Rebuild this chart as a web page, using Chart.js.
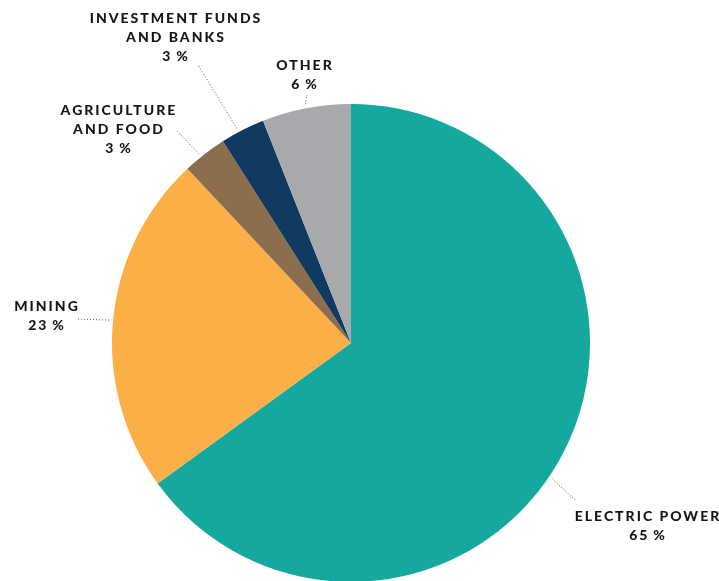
<!DOCTYPE html>
<html>
<head>
<meta charset="utf-8">
<script src="https://cdn.jsdelivr.net/npm/chart.js@4.4.1/dist/chart.umd.min.js"></script>
<style>
  html, body { margin: 0; padding: 0; background: #fff; overflow: hidden; }
  #wrap { width: 719px; height: 582px; }
</style>
</head>
<body>
<div id="wrap"><canvas id="pieChart"></canvas></div>
<script>
// data, clockwise from 12 o'clock
const categories = ['Electric Power', 'Mining', 'Agriculture and Food', 'Investment Funds and Banks', 'Other'];
const shares = [65, 23, 3, 3, 6];
const labelLines = [
    ['ELECTRIC POWER'],
    ['MINING'],
    ['AGRICULTURE', 'AND FOOD'],
    ['INVESTMENT FUNDS', 'AND BANKS'],
    ['OTHER']
];
const sliceColors = ['#14a89e', '#fab046', '#8c6d4e', '#103a5f', '#a7a9ac'];

// where each callout sits (text centre of first line, leader end, angle tweak in degrees)
const callouts = [
    { tx: 647, ty: 516, ex: 575, ey: 500, shift: 7 },
    { tx: 46, ty: 306, ex: 78, ey: 319, shift: 0 },
    { tx: 118, ty: 110, ex: 176, ey: 130, shift: -1 },
    { tx: 175, ty: 18, ex: 198, ey: 65, shift: -1 },
    { tx: 304, ty: 65, ex: 307, ey: 95, shift: 0 }
];

const calloutPlugin = {
    id: 'callouts',
    afterDatasetsDraw(chart) {
        const ctx = chart.ctx;
        const arcs = chart.getDatasetMeta(0).data;
        ctx.save();
        arcs.forEach((arc, i) => {
            const c = callouts[i];
            const p = arc.getProps(['x', 'y', 'startAngle', 'endAngle', 'outerRadius'], true);
            const mid = (p.startAngle + p.endAngle) / 2 + c.shift * Math.PI / 180;
            const r = p.outerRadius + 4;
            const sx = p.x + Math.cos(mid) * r;
            const sy = p.y + Math.sin(mid) * r;

            // dotted leader
            ctx.strokeStyle = '#555';
            ctx.lineWidth = 1;
            ctx.setLineDash([1, 2]);
            ctx.beginPath();
            ctx.moveTo(sx, sy);
            ctx.lineTo(c.ex, c.ey);
            ctx.stroke();
            ctx.setLineDash([]);

            // text
            ctx.fillStyle = '#161616';
            ctx.font = '900 14px Lato';
            ctx.letterSpacing = '2px';
            ctx.textAlign = 'center';
            ctx.textBaseline = 'middle';
            const lines = labelLines[i].concat([shares[i] + '\u2009%']);
            lines.forEach((line, j) => {
                ctx.fillText(line, c.tx + 1, c.ty + j * 19);
            });
        });
        ctx.restore();
    }
};

new Chart(document.getElementById('pieChart').getContext('2d'), {
    type: 'pie',
    data: {
        labels: categories,
        datasets: [{
            data: shares,
            backgroundColor: sliceColors,
            borderWidth: 0
        }]
    },
    options: {
        responsive: true,
        maintainAspectRatio: false,
        animation: false,
        layout: {
            padding: { top: 104, bottom: 0, left: 112, right: 129 }
        },
        plugins: {
            legend: { display: false },
            tooltip: { enabled: false }
        }
    },
    plugins: [calloutPlugin]
});
</script>
</body>
</html>
